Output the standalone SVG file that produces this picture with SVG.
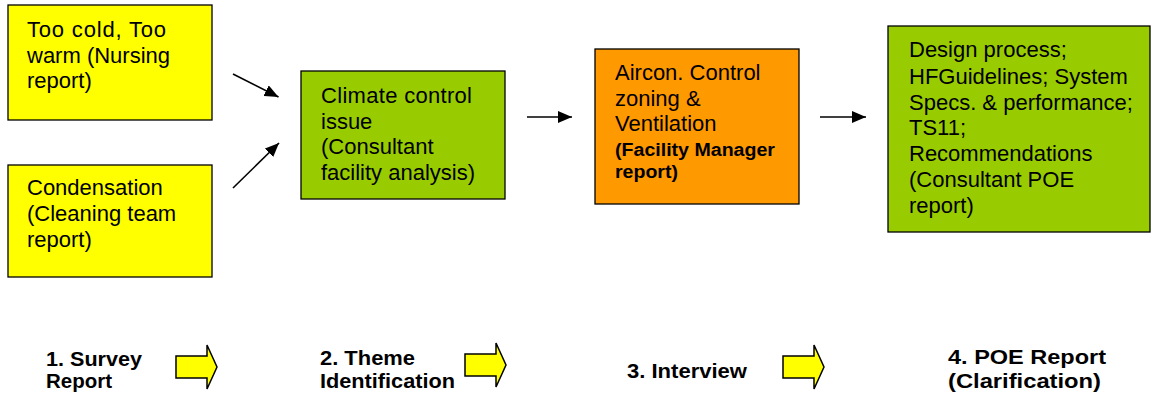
<svg xmlns="http://www.w3.org/2000/svg" width="1151" height="396" viewBox="0 0 1151 396">
  <style>
    .box { stroke: #000; stroke-width: 1.3; }
    .yellow { fill: #FFFF00; }
    .green { fill: #99CC00; }
    .orange { fill: #FF9900; }
    .t { font-family: "Liberation Sans", Arial, sans-serif; font-size: 22px; fill: #000; }
    .b { font-family: "Liberation Sans", Arial, sans-serif; font-size: 17.5px; font-weight: bold; fill: #000; }
    .lbl { font-family: "Liberation Sans", Arial, sans-serif; font-size: 21px; font-weight: bold; fill: #000; }
    .conn { stroke: #000; stroke-width: 1.6; fill: none; marker-end: url(#ah); }
    .block { fill: #FFFF00; stroke: #000; stroke-width: 1.5; stroke-linejoin: miter; }
  </style>
  <defs>
    <marker id="ah" viewBox="0 0 14 12" refX="14" refY="6" markerWidth="14" markerHeight="12" markerUnits="userSpaceOnUse" orient="auto">
      <path d="M0,0 L14,6 L0,12 z" fill="#000"/>
    </marker>
    <path id="blockArrow" d="M0,-11 L31,-11 L31,-22 L41,0 L31,22 L31,11 L0,11 z"/>
  </defs>
  <rect width="1151" height="396" fill="#fff"/>

  <g id="node-too-cold">
    <rect class="box yellow" x="8" y="5" width="204" height="115"/>
    <text class="t" x="27" y="37" textLength="139" lengthAdjust="spacing">Too cold, Too</text>
    <text class="t" x="27" y="63">warm (Nursing</text>
    <text class="t" x="27" y="88">report)</text>
  </g>

  <g id="node-condensation">
    <rect class="box yellow" x="8" y="165" width="204" height="112"/>
    <text class="t" x="27" y="195">Condensation</text>
    <text class="t" x="27" y="221">(Cleaning team</text>
    <text class="t" x="27" y="247">report)</text>
  </g>

  <g id="node-climate">
    <rect class="box green" x="301" y="71" width="204" height="128"/>
    <text class="t" x="321" y="103" textLength="151" lengthAdjust="spacing">Climate control</text>
    <text class="t" x="321" y="128.5">issue</text>
    <text class="t" x="321" y="154">(Consultant</text>
    <text class="t" x="321" y="179.5">facility analysis)</text>
  </g>

  <g id="node-aircon">
    <rect class="box orange" x="595" y="49" width="204" height="155"/>
    <text class="t" x="615" y="80">Aircon. Control</text>
    <text class="t" x="615" y="105.5">zoning &amp;</text>
    <text class="t" x="615" y="131">Ventilation</text>
    <text class="b" x="615" y="156" textLength="160" lengthAdjust="spacingAndGlyphs">(Facility Manager</text>
    <text class="b" x="615" y="177.5" textLength="63" lengthAdjust="spacingAndGlyphs">report)</text>
  </g>

  <g id="node-design">
    <rect class="box green" x="888" y="26" width="262" height="206"/>
    <text class="t" x="909" y="57">Design process;</text>
    <text class="t" x="909" y="83.5">HFGuidelines; System</text>
    <text class="t" x="909" y="110">Specs. &amp; performance;</text>
    <text class="t" x="909" y="135">TS11;</text>
    <text class="t" x="909" y="161">Recommendations</text>
    <text class="t" x="909" y="187">(Consultant POE</text>
    <text class="t" x="909" y="213">report)</text>
  </g>

  <g id="connectors">
    <line class="conn" x1="233" y1="74" x2="278.5" y2="97"/>
    <line class="conn" x1="233" y1="188" x2="279" y2="143"/>
    <line class="conn" x1="527" y1="117" x2="572" y2="117"/>
    <line class="conn" x1="820" y1="117" x2="866" y2="117"/>
  </g>

  <g id="label-1">
    <text class="lbl" x="46" y="365.5" textLength="96" lengthAdjust="spacingAndGlyphs">1. Survey</text>
    <text class="lbl" x="46" y="388" textLength="66" lengthAdjust="spacingAndGlyphs">Report</text>
  </g>
  <g id="block-arrow-1">
    <use href="#blockArrow" class="block" transform="translate(176,367)"/>
  </g>

  <g id="label-2">
    <text class="lbl" x="320" y="364.5" textLength="95" lengthAdjust="spacingAndGlyphs">2. Theme</text>
    <text class="lbl" x="320" y="388" textLength="135" lengthAdjust="spacingAndGlyphs">Identification</text>
  </g>
  <g id="block-arrow-2">
    <use href="#blockArrow" class="block" transform="translate(465,365)"/>
  </g>

  <g id="label-3">
    <text class="lbl" x="627" y="377.5" textLength="120" lengthAdjust="spacingAndGlyphs">3. Interview</text>
  </g>
  <g id="block-arrow-3">
    <use href="#blockArrow" class="block" transform="translate(783,367)"/>
  </g>

  <g id="label-4">
    <text class="lbl" x="948" y="364" textLength="158" lengthAdjust="spacingAndGlyphs">4. POE Report</text>
    <text class="lbl" x="948" y="387.5" textLength="153" lengthAdjust="spacingAndGlyphs">(Clarification)</text>
  </g>
</svg>
